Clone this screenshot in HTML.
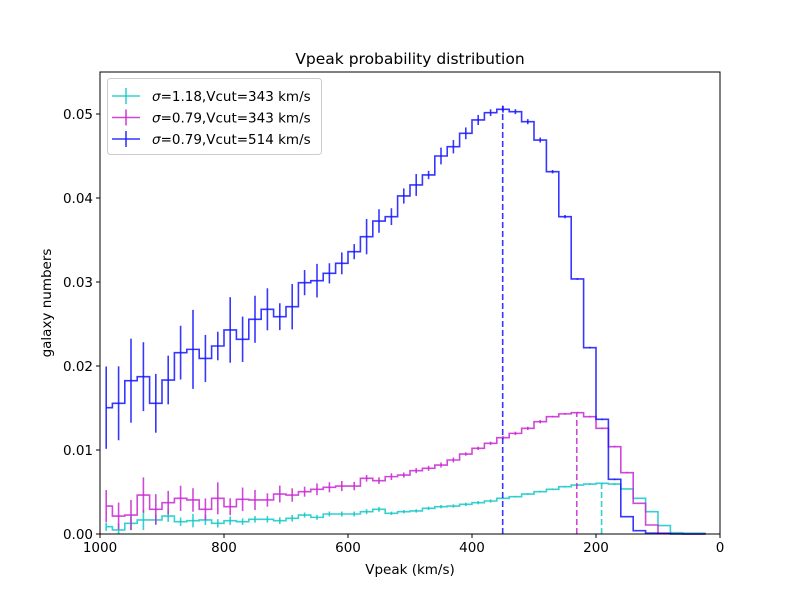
<!DOCTYPE html>
<html><head><meta charset="utf-8"><style>
body{margin:0;background:#fff;}
svg text{font-family:"DejaVu Sans","Liberation Sans",sans-serif;}
</style></head><body>
<svg id="chart" width="800" height="600" xmlns="http://www.w3.org/2000/svg"></svg>
<script>
const centers = [];
for (let k = 0; k < 49; k++) centers.push(990 - 20 * k);
const blueVals = [0.01504,0.01556,0.01825,0.01873,0.01556,0.01833,0.02159,0.02198,0.0209,0.02238,0.02429,0.02318,0.02556,0.02675,0.02587,0.02706,0.02992,0.03016,0.03103,0.03222,0.03361,0.0354,0.03726,0.03778,0.04024,0.04155,0.04274,0.045,0.04611,0.0477,0.04929,0.05016,0.05056,0.05028,0.04909,0.0469,0.04313,0.03778,0.03036,0.02218,0.01365,0.00651,0.00206,0.0004,0.0001,0.00005,0,0,0];
const blueErr = [0.0049,0.0044,0.005,0.0041,0.0035,0.0029,0.0032,0.0047,0.0028,0.0017,0.0039,0.0027,0.0028,0.0025,0.0016,0.0027,0.0015,0.002,0.0012,0.0013,0.0009,0.0021,0.0014,0.001,0.0009,0.0013,0.0005,0.001,0.0008,0.0007,0.0006,0.0004,0.0004,0.0003,0.0003,0.0003,0.0002,0.0002,0.0001,0.0001,0.0001,0.0001,0,0,0,0,0,0,0];
const magVals = [0.00333,0.00214,0.00226,0.00464,0.00294,0.00373,0.00425,0.00405,0.00294,0.00425,0.00325,0.00413,0.00405,0.00405,0.00476,0.00464,0.00504,0.00532,0.00556,0.00571,0.00571,0.00663,0.00635,0.00683,0.00702,0.00754,0.00782,0.00821,0.00881,0.00952,0.0102,0.0108,0.01147,0.01198,0.01258,0.01337,0.01397,0.0143,0.01444,0.01397,0.01258,0.0104,0.0073,0.00365,0.00107,0.0001,0.00003,0,0];
const magErr = [0.0019,0.0016,0.0018,0.0021,0.0018,0.0014,0.0015,0.0014,0.0013,0.0019,0.001,0.0014,0.0012,0.0008,0.001,0.0008,0.0006,0.0007,0.0006,0.0006,0.0005,0.0004,0.0004,0.0004,0.0003,0.0003,0.0003,0.0003,0.0003,0.0002,0.0002,0.0002,0.0002,0.0002,0.0002,0.0002,0.0001,0.0001,0.0001,0.0001,0.0001,0.0001,0.0001,0,0,0,0,0,0];
const cyanVals = [0.00087,0.00048,0.00127,0.00167,0.00167,0.00214,0.00147,0.00159,0.00167,0.00127,0.00159,0.00147,0.00175,0.00175,0.00159,0.00187,0.00226,0.00198,0.00238,0.00238,0.00238,0.00266,0.00294,0.00246,0.00266,0.00274,0.00306,0.00325,0.00333,0.00353,0.00373,0.00393,0.00425,0.00444,0.00476,0.00504,0.00532,0.00563,0.00583,0.00595,0.00603,0.00595,0.00536,0.00425,0.00266,0.001,0.00016,0.0001,0.0001];
const cyanErr = [0.0005,0.0008,0.0008,0.0012,0.0006,0.0007,0.0005,0.0008,0.0006,0.0005,0.0005,0.0004,0.0004,0.0004,0.0004,0.0004,0.0003,0.0003,0.0003,0.0003,0.0003,0.0003,0.0003,0.0002,0.0002,0.0002,0.0002,0.0002,0.0002,0.0002,0.0002,0.0002,0.0001,0.0001,0.0001,0.0001,0.0001,0.0001,0.0001,0.0001,0.0001,0.0001,0,0,0,0,0,0,0];
const peakX = [191, 231, 350.5];
const peakY = [0.006, 0.0144, 0.051];
const xTicks = [1000, 800, 600, 400, 200, 0];
const yTicks = [0, 0.01, 0.02, 0.03, 0.04, 0.05];
const legendLabels = ["=1.18,Vcut=343 km/s", "=0.79,Vcut=343 km/s", "=0.79,Vcut=514 km/s"];

const L = 100, R = 720, T = 72, B = 534;
const X = v => L + (1000 - v) * (R - L) / 1000;
const Y = v => B - v * (B - 114) / 0.05;
const svg = document.getElementById('chart');
const NS = 'http://www.w3.org/2000/svg';
function mk(tag, attrs, parent) {
  const e = document.createElementNS(NS, tag);
  for (const k in attrs) e.setAttribute(k, attrs[k]);
  (parent || svg).appendChild(e);
  return e;
}
const colors = ['rgba(20,200,200,0.85)', 'rgba(200,40,210,0.85)', 'rgba(20,20,255,0.85)'];
const series = [[cyanVals, cyanErr], [magVals, magErr], [blueVals, blueErr]];
const names = ['cyan', 'magenta', 'blue'];

series.forEach((s, i) => {
  const vals = s[0], err = s[1];
  const g = mk('g', {});
  
  
  let d = '';
  for (let k = 0; k < centers.length; k++) {
    const x0 = k === 0 ? X(centers[k]) : X(centers[k] + 10);
    const x1 = k === centers.length - 1 ? X(centers[k] - 7) : X(centers[k] - 10);
    d += (k === 0 ? 'M' : 'L') + x0.toFixed(2) + ',' + Y(vals[k]).toFixed(2) + 'L' + x1.toFixed(2) + ',' + Y(vals[k]).toFixed(2);
  }
  const p = mk('path', {d: d, fill: 'none', stroke: colors[i], 'stroke-width': 1.6}, g);
  
  
  for (let k = 0; k < centers.length; k++) {
    if (err[k] <= 0) continue;
    const ln = mk('line', {x1: X(centers[k]), x2: X(centers[k]), y1: Y(Math.max(0, vals[k] - err[k])), y2: Y(vals[k] + err[k]), stroke: colors[i], 'stroke-width': 1.6}, g);
    
    
  }
  const dl = mk('line', {x1: X(peakX[i]), x2: X(peakX[i]), y1: Y(0), y2: Y(peakY[i]), stroke: colors[i], 'stroke-width': 1.6, 'stroke-dasharray': '6,3'}, g);
  
  
});

const frame = mk('rect', {x: L, y: T, width: R - L, height: B - T, fill: 'none', stroke: '#000', 'stroke-width': 1});



xTicks.forEach(t => {
  mk('line', {x1: X(t), x2: X(t), y1: B, y2: B + 4, stroke: '#000'});
  const tx = mk('text', {x: X(t), y: B + 18, 'font-size': 13.5, 'text-anchor': 'middle'});
  tx.textContent = t;
  
  
});
yTicks.forEach(t => {
  mk('line', {x1: L - 4, x2: L, y1: Y(t), y2: Y(t), stroke: '#000'});
  const tx = mk('text', {x: L - 7, y: Y(t) + 5, 'font-size': 13.5, 'text-anchor': 'end'});
  tx.textContent = t.toFixed(2);
  
  
});

const title = mk('text', {x: 410, y: 64, 'font-size': 15.5, 'text-anchor': 'middle'});
title.textContent = 'Vpeak probability distribution';


const xt = mk('text', {x: 410, y: 574, 'font-size': 13.5, 'text-anchor': 'middle'});
xt.textContent = 'Vpeak (km/s)';


const yt = mk('text', {x: 51, y: 303, 'font-size': 13.5, 'text-anchor': 'middle', transform: 'rotate(-90 51 303)'});
yt.textContent = 'galaxy numbers';



const lg = mk('g', {});


mk('rect', {x: 107.5, y: 78.5, width: 214, height: 76, rx: 3, fill: 'rgba(255,255,255,0.8)', stroke: '#ccc'}, lg);
legendLabels.forEach((lab, i) => {
  const y = 96 + i * 21.5;
  const e = mk('g', {}, lg);
  
  
  mk('line', {x1: 112, x2: 140, y1: y, y2: y, stroke: colors[i], 'stroke-width': 1.6}, e);
  mk('line', {x1: 126, x2: 126, y1: y - 8, y2: y + 8, stroke: colors[i], 'stroke-width': 1.6}, e);
  const t = mk('text', {x: 152, y: y + 5, 'font-size': 13.5}, e);
  const s = mk('tspan', {'font-style': 'italic'}, t);
  s.textContent = 'σ';
  const r = mk('tspan', {}, t);
  r.textContent = lab;
});
</script>
</body></html>
